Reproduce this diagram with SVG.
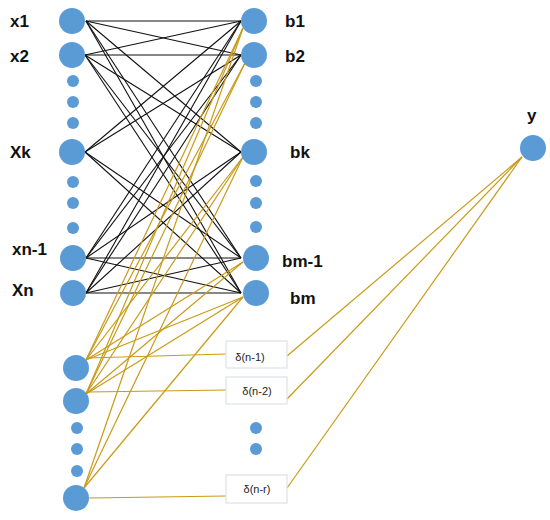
<svg xmlns="http://www.w3.org/2000/svg" width="550" height="520" viewBox="0 0 550 520">
<style>
.big{fill:#5B9BD5}
.sm{fill:#5B9BD5}
.lbl{font-family:"Liberation Sans",Arial,sans-serif;font-weight:bold;font-size:17px;fill:#111}
.blk{stroke:#111;stroke-width:1.1;fill:none}
.gld{stroke:#C89B17;stroke-width:1.2;fill:none}
.box{fill:#fff;stroke:#DDE3EA;stroke-width:1.2}
.dt{font-family:"Liberation Sans",Arial,sans-serif;font-size:11px;fill:#222;text-anchor:middle}
</style>
<rect width="550" height="520" fill="#fff"/>
<g id="connectors">
<g class="blk">
<line x1="86" y1="21" x2="241" y2="21"/><line x1="86" y1="21" x2="241" y2="55"/><line x1="86" y1="21" x2="241" y2="152"/><line x1="86" y1="21" x2="241" y2="258"/><line x1="86" y1="21" x2="241" y2="293"/>
<line x1="85" y1="55" x2="241" y2="21"/><line x1="85" y1="55" x2="241" y2="55"/><line x1="85" y1="55" x2="241" y2="152"/><line x1="85" y1="55" x2="241" y2="258"/><line x1="85" y1="55" x2="241" y2="293"/>
<line x1="85" y1="152" x2="241" y2="21"/><line x1="85" y1="152" x2="241" y2="55"/><line x1="85" y1="152" x2="241" y2="258"/><line x1="85" y1="152" x2="241" y2="293"/>
<line x1="86" y1="258" x2="241" y2="21"/><line x1="86" y1="258" x2="241" y2="55"/><line x1="86" y1="258" x2="241" y2="152"/><line x1="86" y1="258" x2="241" y2="258"/><line x1="86" y1="258" x2="241" y2="293"/>
<line x1="86" y1="293" x2="241" y2="21"/><line x1="86" y1="293" x2="241" y2="55"/><line x1="86" y1="293" x2="241" y2="152"/><line x1="86" y1="293" x2="241" y2="258"/><line x1="86" y1="293" x2="241" y2="293"/>
</g>
<g class="gld">
<line x1="86" y1="360" x2="243" y2="28"/><line x1="86" y1="360" x2="245" y2="63"/><line x1="86" y1="360" x2="243" y2="157"/><line x1="86" y1="360" x2="243" y2="262"/><line x1="86" y1="360" x2="243" y2="297"/>
<line x1="86" y1="394" x2="243" y2="28"/><line x1="86" y1="394" x2="245" y2="63"/><line x1="86" y1="394" x2="243" y2="157"/><line x1="86" y1="394" x2="243" y2="262"/><line x1="86" y1="394" x2="243" y2="297"/>
<line x1="84" y1="488" x2="243" y2="28"/><line x1="84" y1="488" x2="243" y2="157"/><line x1="84" y1="488" x2="243" y2="297"/>
<line x1="88" y1="358" x2="226" y2="354"/><line x1="88" y1="392" x2="226" y2="390"/><line x1="89" y1="498" x2="226" y2="496"/>
<line x1="287" y1="356" x2="522" y2="157"/><line x1="287" y1="399" x2="522" y2="157"/><line x1="287" y1="488" x2="522" y2="157"/>
</g>
</g>
<g id="x1"><circle class="big" cx="72" cy="21" r="13"/><text class="lbl" x="10" y="27">x1</text></g>
<g id="x2"><circle class="big" cx="72" cy="55" r="13"/><text class="lbl" x="10" y="62">x2</text></g>
<g id="xdots1"><circle class="sm" cx="73" cy="81" r="6"/><circle class="sm" cx="73" cy="102" r="6"/><circle class="sm" cx="73" cy="123" r="6"/></g>
<g id="xk"><circle class="big" cx="72" cy="152" r="13"/><text class="lbl" x="10" y="158">Xk</text></g>
<g id="xdots2"><circle class="sm" cx="73" cy="182" r="6"/><circle class="sm" cx="73" cy="203" r="6"/><circle class="sm" cx="73" cy="228" r="6"/></g>
<g id="xn-1"><circle class="big" cx="73" cy="258" r="13"/><text class="lbl" x="12" y="255">xn-1</text></g>
<g id="xn"><circle class="big" cx="73" cy="293" r="13"/><text class="lbl" x="12" y="296">Xn</text></g>
<g id="b1"><circle class="big" cx="254" cy="21" r="13"/><text class="lbl" x="285" y="27">b1</text></g>
<g id="b2"><circle class="big" cx="254" cy="55" r="13"/><text class="lbl" x="285" y="62">b2</text></g>
<g id="bdots1"><circle class="sm" cx="256" cy="81" r="6"/><circle class="sm" cx="256" cy="102" r="6"/><circle class="sm" cx="256" cy="123" r="6"/></g>
<g id="bk"><circle class="big" cx="254" cy="152" r="13"/><text class="lbl" x="290" y="158">bk</text></g>
<g id="bdots2"><circle class="sm" cx="256" cy="181" r="6"/><circle class="sm" cx="256" cy="203" r="6"/><circle class="sm" cx="256" cy="227" r="6"/></g>
<g id="bm-1"><circle class="big" cx="256" cy="258" r="13"/><text class="lbl" x="282" y="267">bm-1</text></g>
<g id="bm"><circle class="big" cx="256" cy="293" r="13"/><text class="lbl" x="290" y="304">bm</text></g>
<g id="y"><circle class="big" cx="533" cy="148" r="13"/><text class="lbl" x="527" y="121">y</text></g>
<g id="l1"><circle class="big" cx="76" cy="368" r="13"/></g>
<g id="l2"><circle class="big" cx="76" cy="401" r="13"/></g>
<g id="ldots"><circle class="sm" cx="77" cy="428" r="6"/><circle class="sm" cx="77" cy="449" r="6"/><circle class="sm" cx="77" cy="471" r="6"/></g>
<g id="l3"><circle class="big" cx="76" cy="498" r="13"/></g>
<g id="d1"><rect class="box" x="226" y="341" width="61" height="27"/><text class="dt" x="250" y="361">δ(n-1)</text></g>
<g id="d2"><rect class="box" x="226" y="377" width="61" height="27"/><text class="dt" x="257" y="395">δ(n-2)</text></g>
<g id="ddots"><circle class="sm" cx="256" cy="428" r="6"/><circle class="sm" cx="256" cy="449" r="6"/></g>
<g id="dr"><rect class="box" x="226" y="475" width="61" height="28"/><text class="dt" x="257" y="493">δ(n-r)</text></g>
</svg>
